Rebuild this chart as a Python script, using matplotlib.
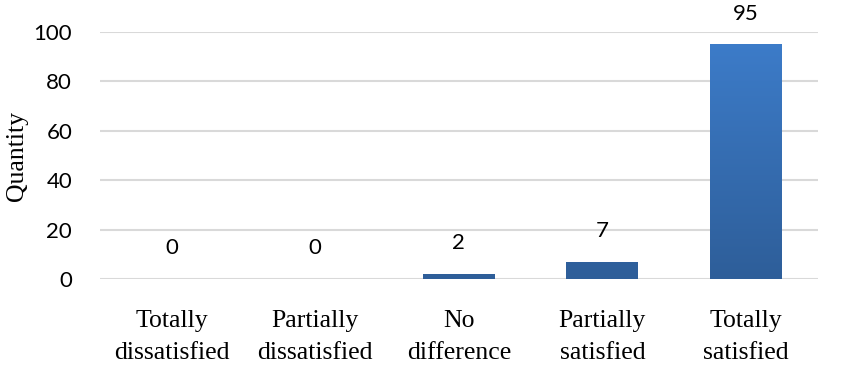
import matplotlib
matplotlib.use('Agg')
import matplotlib.pyplot as plt
import numpy as np
from matplotlib.colors import LinearSegmentedColormap

# data
categories = ['Totally\ndissatisfied', 'Partially\ndissatisfied', 'No\ndifference',
              'Partially\nsatisfied', 'Totally\nsatisfied']
quantity = [0, 0, 2, 7, 95]
yticks = [0, 20, 40, 60, 80, 100]

fig = plt.figure(figsize=(8.5, 3.71), dpi=100)
ax = fig.add_axes([0.1176, 0.248, 0.8444, 0.6657])

x = np.arange(len(categories))
bars = ax.bar(x, quantity, width=0.5, color='#3670B8', zorder=2)

# gradient fill, lighter on top, darker at the bottom
cmap = LinearSegmentedColormap.from_list('grad', ['#2E5E99', '#3D7DCB'])
grad = np.linspace(0, 1, 256).reshape(-1, 1)
for b in bars:
    h = b.get_height()
    if h <= 0:
        continue
    x0 = b.get_x()
    im = ax.imshow(grad, cmap=cmap, origin='lower', aspect='auto',
                   extent=[x0, x0 + b.get_width(), 0, 100], zorder=3)
    im.set_clip_path(b)
    b.set_facecolor('none')

for xi, v in zip(x, quantity):
    ax.annotate(str(v), (xi, v), xytext=(0, 22), textcoords='offset points',
                ha='center', va='center', fontsize=16, family='Lato', zorder=4)

ax.set_xlim(-0.5, len(categories) - 0.5)
ax.set_ylim(0, 100)
ax.set_yticks(yticks)
ax.set_yticklabels([str(t) for t in yticks], fontsize=16, family='Lato')
ax.set_xticks(x)
ax.set_xticklabels(categories, fontsize=18.5, family='Liberation Serif', linespacing=1.62)
ax.tick_params(axis='both', length=0)
ax.tick_params(axis='y', pad=20)
ax.tick_params(axis='x', pad=22)

ax.grid(axis='y', color='#D9D9D9', linewidth=1.5, zorder=0)
ax.set_axisbelow(True)
for s in ax.spines.values():
    s.set_visible(False)

ax.set_ylabel('Quantity', fontsize=18.5, family='Liberation Serif', labelpad=4)

plt.savefig('out.png', dpi=100)
plt.close()
